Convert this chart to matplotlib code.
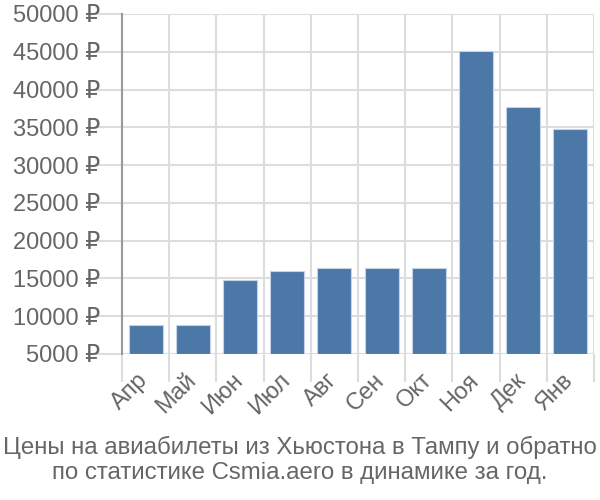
import matplotlib
matplotlib.use("Agg")
import matplotlib.pyplot as plt
import matplotlib.transforms as mtransforms
import numpy as np

plt.rcParams['font.family'] = ['Liberation Sans', 'DejaVu Sans']

months = ["Апр", "Май", "Июн", "Июл", "Авг", "Сен", "Окт", "Ноя", "Дек", "Янв"]
prices = [8800, 8800, 14800, 15950, 16350, 16350, 16350, 45150, 37650, 34750]
yticks = [5000, 10000, 15000, 20000, 25000, 30000, 35000, 40000, 45000, 50000]
title = "Цены на авиабилеты из Хьюстона в Тампу и обратно\nпо статистике Csmia.aero в динамике за год."

text_color = "#666666"
grid_color = "#dddddd"
bar_color = "#4c78a8"

fig = plt.figure(figsize=(6, 5), dpi=100)
ax = fig.add_axes([122/600, 1-354/500, (594-122)/600, (354-14)/500])

x = np.arange(len(months))
ax.bar(x, [p - 5000 for p in prices], bottom=5000, width=0.72, color=bar_color,
       edgecolor="#c5d3e3", linewidth=0.8, zorder=3)

ax.set_xlim(-0.5, len(months) - 0.5)
ax.set_ylim(5000, 50000)

ax.set_yticks(yticks)
ax.set_yticklabels([f"{v} ₽" for v in yticks], fontsize=17, color=text_color)
ax.tick_params(axis='y', length=20, color=grid_color, width=1.5, pad=-4)

ax.set_xticks(x)
ax.set_xticklabels(months, rotation=45, ha='right', va='top', rotation_mode='anchor',
                   fontsize=17, color=text_color)
ax.tick_params(axis='x', which='major', length=0, pad=11)
offset = mtransforms.ScaledTranslation(-6/72, 0, fig.dpi_scale_trans)
for lbl in ax.get_xticklabels():
    lbl.set_transform(lbl.get_transform() + offset)
ax.set_xticks(np.arange(len(months) + 1) - 0.5, minor=True)
ax.tick_params(axis='x', which='minor', length=20, color=grid_color, width=1.5)
ax.xaxis.get_minor_ticks()[0].tick1line.set_color("#999999")

ax.grid(True, axis='y', color=grid_color, linewidth=1.5, zorder=0)
ax.grid(True, axis='x', which='minor', color=grid_color, linewidth=1.5, zorder=0)

for s in ['top', 'right', 'bottom']:
    ax.spines[s].set_visible(False)
ax.spines['left'].set_color("#999999")
ax.spines['left'].set_linewidth(1.5)
ax.spines['left'].set_zorder(4)

fig.text(0.5, 1 - 460/500, title, ha='center', va='center', fontsize=17.3,
         color=text_color, linespacing=1.2)

fig.savefig("out.png", dpi=100)
